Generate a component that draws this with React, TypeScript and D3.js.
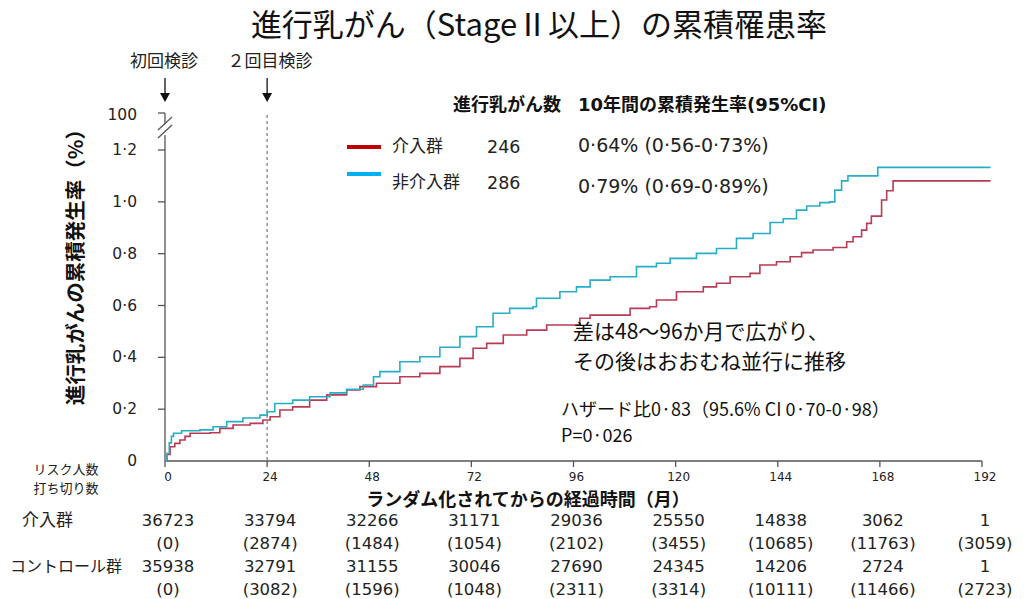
import React from 'react';
import * as d3 from 'd3';

// Kaplan-Meier style cumulative incidence: [month, %]
const interventionCurve: [number, number][] = [
  [0, 0], [0.5, 0.025], [1.2, 0.055], [2.3, 0.068], [3.5, 0.081], [4.7, 0.095], [5.9, 0.107],
  [10.6, 0.109], [12.9, 0.126], [16, 0.139], [20, 0.145], [23, 0.158], [24.7, 0.171], [27, 0.197],
  [30, 0.209], [34, 0.235], [38, 0.255], [42.7, 0.274], [45.8, 0.287], [49.7, 0.3], [55.2, 0.325],
  [59.9, 0.338], [64.6, 0.364], [69.3, 0.396], [72.4, 0.435], [75.6, 0.454], [79.5, 0.486],
  [85, 0.505], [89.7, 0.525], [97.5, 0.551], [99.9, 0.563], [109.3, 0.589], [113.9, 0.595],
  [115.5, 0.621], [120.2, 0.653], [126.5, 0.672], [129.6, 0.686], [132.8, 0.711], [137.5, 0.724],
  [139.8, 0.756], [143.7, 0.769], [146.9, 0.788], [149.6, 0.804], [152.3, 0.814], [157, 0.824],
  [160.2, 0.846], [161.7, 0.865], [163.7, 0.891], [164.9, 0.917], [166, 0.945], [168.4, 1.007],
  [169.6, 1.043], [171.1, 1.081], [194, 1.081],
];

const controlCurve: [number, number][] = [
  [0, 0], [0.5, 0.03], [1, 0.07], [1.5, 0.095], [2, 0.107], [3.9, 0.117], [8.2, 0.12],
  [11.3, 0.132], [14.5, 0.152], [18.3, 0.166], [22.3, 0.177], [24, 0.19], [25.8, 0.222],
  [30, 0.235], [34, 0.248], [38.8, 0.263], [42.7, 0.277], [46.6, 0.293], [49, 0.325],
  [50.5, 0.345], [55.2, 0.383], [59.9, 0.402], [64.6, 0.439], [69.3, 0.48], [73.2, 0.518],
  [77.1, 0.57], [81, 0.589], [86.5, 0.595], [87.3, 0.628], [92.8, 0.653], [96.7, 0.672],
  [99.9, 0.698], [104.6, 0.711], [110.8, 0.75], [115.5, 0.763], [118.7, 0.782], [124.9, 0.801],
  [129.6, 0.82], [134.3, 0.859], [138.2, 0.878], [142.2, 0.92], [145.3, 0.935], [148.4, 0.968],
  [150.8, 0.984], [153.9, 0.997], [156.2, 1.0], [157.4, 1.045], [159, 1.081], [160.5, 1.1],
  [167.5, 1.133], [194, 1.133],
];

const xTicks = [0, 24, 48, 72, 96, 120, 144, 168, 192];
const yTicks = [0, 0.2, 0.4, 0.6, 0.8, 1.0, 1.2];

const riskIntervention = [36723, 33794, 32266, 31171, 29036, 25550, 14838, 3062, 1];
const censorIntervention = [0, 2874, 1484, 1054, 2102, 3455, 10685, 11763, 3059];
const riskControl = [35938, 32791, 31155, 30046, 27690, 24345, 14206, 2724, 1];
const censorControl = [0, 3082, 1596, 1048, 2311, 3314, 10111, 11466, 2723];

const jp = '"Noto Sans CJK JP", sans-serif';
const mixed = '"DejaVu Sans", "Noto Sans CJK JP", sans-serif';

const RED = '#b83a55';
const CYAN = '#25aec6';

export default function App() {
  const width = 1026;
  const height = 599;

  const x = d3.scaleLinear().domain([0, 192]).range([165, 982]);
  const y = d3.scaleLinear().domain([0, 1.2]).range([461, 150]);

  const line = d3.line<[number, number]>()
    .x(d => x(d[0]))
    .y(d => y(d[1]))
    .curve(d3.curveStepAfter);

  const fmt = (v: number) => (v === 0 ? '0' : v.toFixed(1).replace('.', '·'));
  const axisX = x(0);
  const rowY = [526, 549, 572, 595];

  return (
    <div style={{ position: 'fixed', left: 0, top: 0 }}>
      <svg width={width} height={height} style={{ display: 'block', background: '#fff' }}>
        {/* title */}
        <text x={539} y={36} textAnchor="middle" fontFamily={jp} fontSize={31} fill="#111">
          進行乳がん（StageⅡ以上）の累積罹患率
        </text>

        {/* screening arrows */}
        <text x={164} y={67} textAnchor="middle" fontFamily={jp} fontSize={17} fill="#222">初回検診</text>
        <text x={270} y={67} textAnchor="middle" fontFamily={jp} fontSize={17} fill="#222">２回目検診</text>
        {[0, 24].map(m => (
          <g key={m}>
            <line x1={x(m)} x2={x(m)} y1={78} y2={94} stroke="#111" strokeWidth={1.3} />
            <path d={`M${x(m) - 5},${93} L${x(m) + 5},${93} L${x(m)},${102} Z`} fill="#111" />
          </g>
        ))}

        {/* dashed line at 24 months */}
        <line x1={x(24)} x2={x(24)} y1={115} y2={461} stroke="#8a9499" strokeWidth={1.5} strokeDasharray="3,3" />

        {/* y axis with break */}
        <line x1={axisX} x2={axisX} y1={461} y2={135} stroke="#555" strokeWidth={1.3} />
        <line x1={axisX} x2={axisX} y1={124} y2={113} stroke="#555" strokeWidth={1.3} />
        <line x1={158} x2={axisX} y1={113} y2={113} stroke="#555" strokeWidth={1.3} />
        <line x1={158} x2={172} y1={130} y2={117} stroke="#555" strokeWidth={1.3} />
        <line x1={158} x2={172} y1={138} y2={125} stroke="#555" strokeWidth={1.3} />
        <text x={137} y={120} textAnchor="end" fontFamily={mixed} fontSize={15.5} fill="#222">100</text>
        {yTicks.map(t => (
          <g key={t}>
            {t > 0 && <line x1={158} x2={axisX} y1={y(t)} y2={y(t)} stroke="#555" strokeWidth={1.3} />}
            <text x={137} y={y(t) + 5} textAnchor="end" fontFamily={mixed} fontSize={15.5} fill="#222">{fmt(t)}</text>
          </g>
        ))}
        <text
          transform={`translate(83,262) rotate(-90)`}
          textAnchor="middle"
          fontFamily={jp}
          fontSize={20.5}
          fontWeight="bold"
          fill="#111"
        >
          進行乳がんの累積発生率（%）
        </text>

        {/* x axis */}
        <line x1={x(0)} x2={x(192)} y1={461} y2={461} stroke="#555" strokeWidth={1.3} />
        {xTicks.map(t => (
          <g key={t}>
            <line x1={x(t)} x2={x(t)} y1={461} y2={467} stroke="#555" strokeWidth={1.3} />
            <text x={x(t) + 3} y={481} textAnchor="middle" fontFamily={mixed} fontSize={12} fill="#222">{t}</text>
          </g>
        ))}
        <text x={528} y={506} textAnchor="middle" fontFamily={jp} fontSize={18} fontWeight="bold" fill="#111">
          ランダム化されてからの経過時間（月）
        </text>

        {/* curves */}
        <path d={line(interventionCurve) ?? ''} fill="none" stroke={RED} strokeWidth={1.6} />
        <path d={line(controlCurve) ?? ''} fill="none" stroke={CYAN} strokeWidth={1.6} />

        {/* legend */}
        <text x={453} y={111} fontFamily={jp} fontSize={18} fontWeight="bold" fill="#111">進行乳がん数</text>
        <text x={578} y={111} fontFamily={mixed} fontSize={18} fontWeight="bold" fill="#111">10年間の累積発生率(95%CI)</text>
        <line x1={347} x2={381} y1={147} y2={147} stroke="#c00000" strokeWidth={4} />
        <line x1={347} x2={381} y1={174} y2={174} stroke="#00b0f0" strokeWidth={4} />
        <text x={392} y={152} fontFamily={jp} fontSize={17} fill="#222">介入群</text>
        <text x={392} y={188} fontFamily={jp} fontSize={17} fill="#222">非介入群</text>
        <text x={487} y={153} fontFamily={mixed} fontSize={17.5} fill="#222">246</text>
        <text x={487} y={189} fontFamily={mixed} fontSize={17.5} fill="#222">286</text>
        <text x={578} y={152} fontFamily={mixed} fontSize={19} fill="#222">0·64% (0·56-0·73%)</text>
        <text x={578} y={193} fontFamily={mixed} fontSize={19} fill="#222">0·79% (0·69-0·89%)</text>

        {/* annotations */}
        <text x={573} y={339} fontFamily={jp} fontSize={21} fill="#111">差は48～96か月で広がり、</text>
        <text x={573} y={369} fontFamily={jp} fontSize={21} fill="#111">その後はおおむね並行に推移</text>
        <text x={561} y={416} fontFamily={jp} fontSize={18} fill="#111">ハザード比0·83（95.6% CI 0·70-0·98）</text>
        <text x={561} y={442} fontFamily={jp} fontSize={18} fill="#111">P=0·026</text>

        {/* risk table */}
        <text x={66} y={474} textAnchor="middle" fontFamily={jp} fontSize={13} fill="#222">リスク人数</text>
        <text x={66} y={493} textAnchor="middle" fontFamily={jp} fontSize={13} fill="#222">打ち切り数</text>
        <text x={22} y={rowY[0]} fontFamily={jp} fontSize={17} fill="#222">介入群</text>
        <text x={10} y={rowY[2]} fontFamily={jp} fontSize={16} fill="#222">コントロール群</text>
        {xTicks.map((t, i) => (
          <g key={t} fontFamily={mixed} fontSize={16.5} fill="#222" textAnchor="middle">
            <text x={x(t) + 3} y={rowY[0]}>{riskIntervention[i]}</text>
            <text x={x(t) + 3} y={rowY[1]}>({censorIntervention[i]})</text>
            <text x={x(t) + 3} y={rowY[2]}>{riskControl[i]}</text>
            <text x={x(t) + 3} y={rowY[3]}>({censorControl[i]})</text>
          </g>
        ))}
      </svg>
    </div>
  );
}
